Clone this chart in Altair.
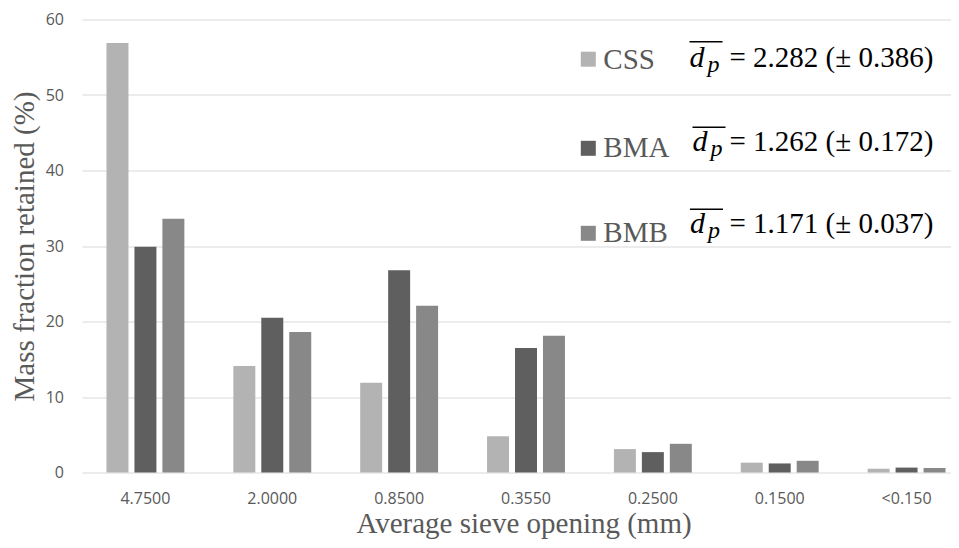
import altair as alt
import pandas as pd

categories = ["4.7500", "2.0000", "0.8500", "0.3550", "0.2500", "0.1500", "<0.150"]
series = ["CSS", "BMA", "BMB"]
css = [56.9, 14.1, 11.9, 4.8, 3.1, 1.3, 0.5]
bma = [29.9, 20.5, 26.8, 16.5, 2.7, 1.2, 0.65]
bmb = [33.6, 18.6, 22.1, 18.1, 3.8, 1.55, 0.6]
colors = ["#b3b3b3", "#5f5f5f", "#888888"]
means = [2.282, 1.262, 1.171]
sds = [0.386, 0.172, 0.037]

rows = []
for s, vals in zip(series, [css, bma, bmb]):
    for c, v in zip(categories, vals):
        rows.append({"sieve": c, "series": s, "value": v})
df = pd.DataFrame(rows)

stats = pd.DataFrame({
    "series": series,
    "formula": [f"= {m:.3f} (\u00b1 {d:.3f})" for m, d in zip(means, sds)],
})

GRAY = "#595959"
SERIF = "Liberation Serif"

color_scale = alt.Scale(domain=series, range=colors)

bars = alt.Chart(df).mark_bar().encode(
    x=alt.X("sieve:N", sort=categories,
            scale=alt.Scale(domain=categories, range=[0, 888],
                            paddingInner=0.386, paddingOuter=0.193),
            axis=alt.Axis(title="Average sieve opening (mm)", labelAngle=0,
                          domain=False, ticks=False, tickSize=0,
                          labelFont="Open Sans", labelFontSize=16,
                          labelColor=GRAY, labelBaseline="alphabetic",
                          labelPadding=31,
                          titleFont=SERIF, titleFontSize=29,
                          titleFontWeight="normal", titleColor=GRAY,
                          titleBaseline="alphabetic", titleX=441.5,
                          titleY=60, grid=False)),
    xOffset=alt.XOffset("series:N", sort=series,
                        scale=alt.Scale(domain=series, paddingInner=0.214)),
    y=alt.Y("value:Q",
            scale=alt.Scale(domain=[0, 60], nice=False),
            axis=alt.Axis(title="Mass fraction retained (%)",
                          values=[0, 10, 20, 30, 40, 50, 60],
                          domain=False, ticks=False, tickSize=0,
                          labelFont="Open Sans", labelFontSize=16,
                          labelColor=GRAY, labelPadding=18.5,
                          grid=True, gridColor="#d9d9d9", gridWidth=1.2,
                          titleFont=SERIF, titleFontSize=29,
                          titleFontWeight="normal", titleColor=GRAY,
                          titleAngle=-90, titleBaseline="alphabetic",
                          titleX=-48.5, titleY=226.5)),
    color=alt.Color("series:N", scale=color_scale, legend=None),
)

# legend / annotation rows (plot-relative pixel positions)
sq_y = [39.7, 128.8, 213.8]
lab_y = [49.0, 137.5, 222.5]
d_x = [607.5, 610.5, 608.0]
form_y = [47.2, 131.2, 213.8]
over_y = [22.2, 107.8, 189.8]

layers = [bars]
for i, s in enumerate(series):
    base = alt.Chart(stats).transform_filter(alt.datum.series == s)
    layers.append(base.mark_square(size=225, opacity=1).encode(
        x=alt.value(506.3), y=alt.value(sq_y[i]),
        color=alt.Color("series:N", scale=color_scale, legend=None)))
    layers.append(base.mark_text(align="left", baseline="alphabetic",
                                 font=SERIF, fontSize=29, color=GRAY).encode(
        x=alt.value(521.3), y=alt.value(lab_y[i]), text="series:N"))
    layers.append(base.mark_text(align="left", baseline="alphabetic",
                                 font=SERIF, fontSize=30, fontStyle="italic",
                                 color="#000000").encode(
        x=alt.value(d_x[i]), y=alt.value(form_y[i]), text=alt.value("d")))
    layers.append(base.mark_text(align="left", baseline="alphabetic",
                                 font=SERIF, fontSize=24, fontStyle="italic",
                                 color="#000000").encode(
        x=alt.value(d_x[i] + 18), y=alt.value(form_y[i] + 5), text=alt.value("p")))
    layers.append(base.mark_rule(color="#000000", strokeWidth=1.5).encode(
        x=alt.value(d_x[i]), x2=alt.value(d_x[i] + 33), y=alt.value(over_y[i])))
    layers.append(base.mark_text(align="left", baseline="alphabetic",
                                 font=SERIF, fontSize=29,
                                 color="#000000").encode(
        x=alt.value(647.5), y=alt.value(form_y[i]), text="formula:N"))

chart = alt.layer(*layers).properties(
    width=869, height=453,
    autosize=alt.AutoSizeParams(type="none"),
    padding={"left": 74, "top": 11.5, "right": 0, "bottom": 67.5},
    background="white",
).configure_view(stroke=None)

chart.save("out.html", embed_options={"renderer": "svg", "actions": False})
